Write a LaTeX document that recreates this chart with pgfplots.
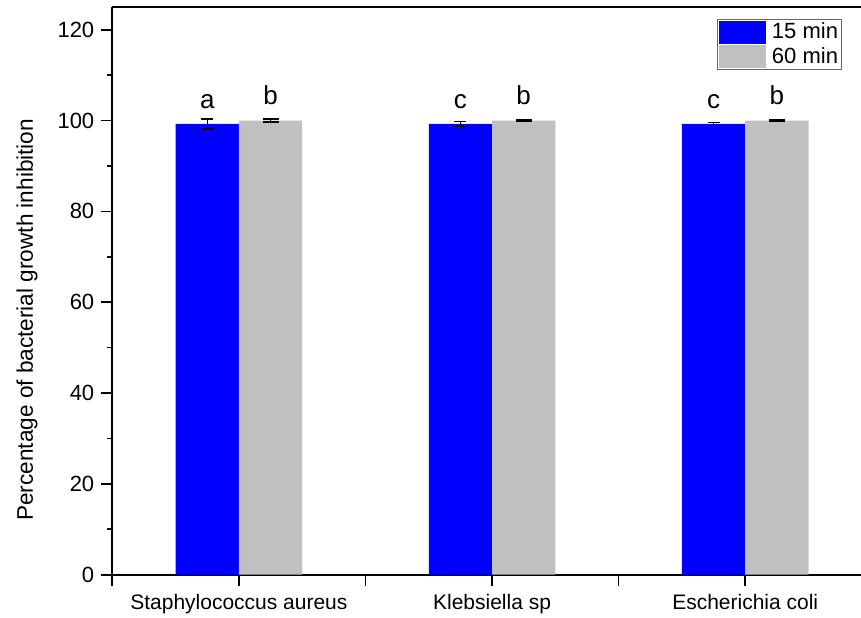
\documentclass[border=0pt]{standalone}
\usepackage{fontspec}
\setmainfont{Liberation Sans}
\usepackage{pgfplots}
\usepackage{pgfplotstable}
\pgfplotsset{compat=1.18}
\definecolor{myblue}{RGB}{0,0,255}
\definecolor{mygray}{RGB}{192,192,192}
\pgfplotstableread{
x y e l
1 99.25 1.1 a
2 99.25 0.6 c
3 99.25 0.3 c
}\tabA
\pgfplotstableread{
x y e l
1 100.0 0.3 b
2 100.0 0.1 b
3 100.0 0.1 b
}\tabB
\begin{document}
\begin{tikzpicture}
\begin{axis}[name=ax, at={(0,0)}, anchor=south west, scale only axis,
  width=379.75pt, height=283.85pt,
  xmin=0.5, xmax=3.5, ymin=0, ymax=125,
  axis x line*=box, axis y line*=left,
  axis line style={line width=0.9pt},
  xtick={0.5,1,1.5,2,2.5,3,3.5},
  xticklabels={,Staphylococcus aureus,,Klebsiella sp,,Escherichia coli,},
  ytick={0,20,40,60,80,100,120},
  minor ytick={10,30,50,70,90,110},
  xtick pos=left, ytick pos=left,
  tick align=outside,
  major tick length=5.5pt, minor tick length=2.75pt,
  tick style={line width=0.8pt, black},
  /pgf/number format/assume math mode=true,
  yticklabel style={font=\fontsize{11}{13}\selectfont},
  xticklabel style={font=\fontsize{10.5}{12.5}\selectfont, yshift=-1pt},
  ylabel={Percentage of bacterial growth inhibition},
  ylabel style={font=\fontsize{11.3}{13}\selectfont, at={(rel axis cs:0,0.449)}, anchor=center, yshift=42.65pt},
  ybar=0pt, bar width=0.25,
  legend image code/.code={\fill[#1] (0pt,-5.8pt) rectangle (23.5pt,5.8pt);},
  legend style={at={(rel axis cs:0.9608,0.9795)}, anchor=north east,
    draw=black!60, line width=0.4pt, inner xsep=0.8pt, inner ysep=0.8pt,
    font=\fontsize{11}{13}\selectfont, row sep=0.6pt,
    nodes={inner xsep=1pt, inner ysep=0.4pt},
    /tikz/every odd column/.append style={column sep=2pt}},
  legend cell align=left,
  every node near coord/.append style={font=\fontsize{13}{15}\selectfont, inner sep=0pt, yshift=7.5pt, black},
]
\addplot[fill=myblue, draw=none, bar shift=-0.125,
  point meta=explicit symbolic, nodes near coords,
  error bars/.cd, y dir=both, y explicit,
  error bar style={line width=0.6pt, black},
  error mark options={rotate=90, mark size=3pt, line width=0.6pt, black}]
  table[x=x, y=y, y error=e, meta=l] {\tabA};
\addlegendentry{15 min}
\addplot[fill=mygray, draw=none, bar shift=0.125,
  point meta=explicit symbolic, nodes near coords,
  error bars/.cd, y dir=both, y explicit,
  error bar style={line width=0.8pt, black},
  error mark options={rotate=90, mark size=4pt, line width=0.8pt, black}]
  table[x=x, y=y, y error=e, meta=l] {\tabB};
\addlegendentry{60 min}
\end{axis}
\pgfresetboundingbox
\path[use as bounding box] (-56.15pt,-21.15pt) rectangle (374.35pt,287.35pt);
\end{tikzpicture}
\end{document}
